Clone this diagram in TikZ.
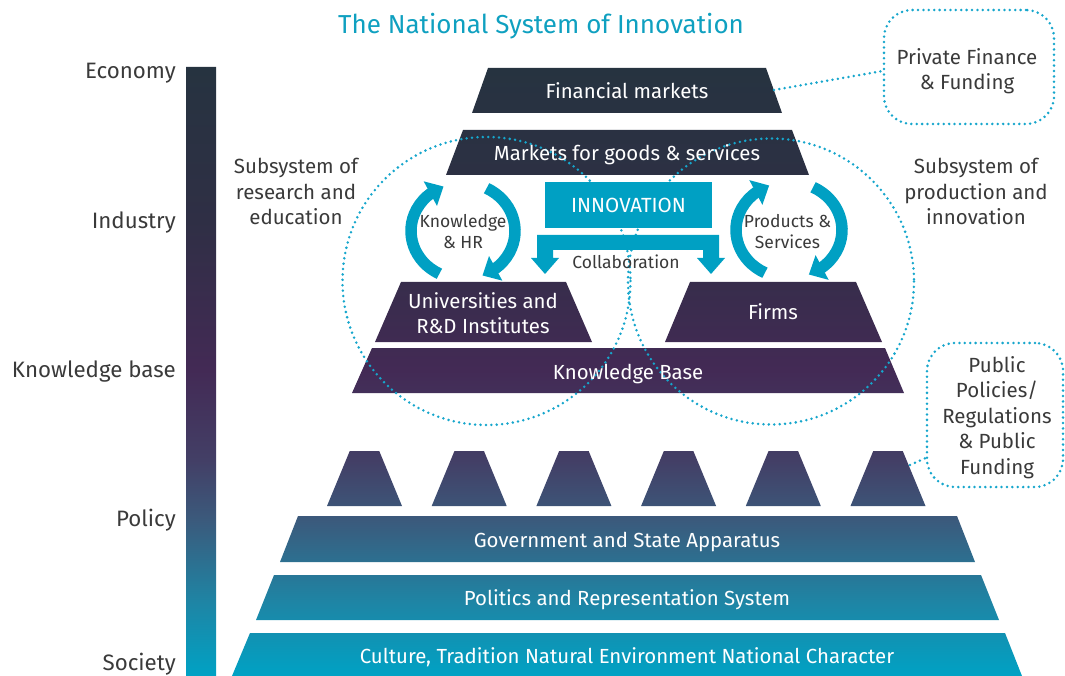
\documentclass[tikz,border=0pt]{standalone}
\usepackage{fontspec}
\setmainfont{Fira Sans}
\usetikzlibrary{arrows.meta,bending}
\definecolor{ecteal}{HTML}{00A0C3}
\definecolor{dotteal}{HTML}{16A6CC}
\definecolor{titleteal}{HTML}{0FA0C0}
\definecolor{txtgray}{HTML}{3A3A3A}
\definecolor{sc0}{HTML}{00A2C4}
\definecolor{sc1}{HTML}{1F84A4}
\definecolor{sc2}{HTML}{3B5A7C}
\definecolor{sc3}{HTML}{433F66}
\definecolor{sc4}{HTML}{432A55}
\definecolor{sc5}{HTML}{2F2F45}
\definecolor{sc6}{HTML}{263340}
\pgfdeclareverticalshading{nsishade}{100bp}{color(0bp)=(sc0); color(25bp)=(sc0); color(31.24bp)=(sc1); color(37.81bp)=(sc2); color(42.73bp)=(sc3); color(50.12bp)=(sc4); color(62.36bp)=(sc5); color(75bp)=(sc6); color(100bp)=(sc6)}
\begin{document}
\begin{tikzpicture}[x=1pt,y=-1pt,
  wlbl/.style={text=white,font=\fontsize{20.4}{25}\selectfont,anchor=base,inner sep=0pt,align=center},
  glbl/.style={text=txtgray,font=\fontsize{20.5}{25.5}\selectfont,anchor=base,inner sep=0pt,align=center},
  slbl/.style={text=txtgray,font=\fontsize{17.5}{21}\selectfont,anchor=base,inner sep=0pt,align=center},
  axlbl/.style={text=txtgray,font=\fontsize{22.3}{26}\selectfont,anchor=base east,inner sep=0pt},
  dotline/.style={draw=dotteal,line width=2.8pt,dash pattern=on 0pt off 5.4pt,line cap=round},
  callout/.style={dotline,rounded corners=28pt,inner sep=0pt},
  cyc/.style={draw=ecteal,line width=11.5pt,-{Triangle[width=27pt,length=15pt]}},
]
\useasboundingbox (0,0) rectangle (1065,676);

% gradient bar and pyramid layers
\shade[shading=nsishade]
  (186,67) rectangle (216,676)
  (488,68) -- (766,68) -- (782,113) -- (472,113) -- cycle
  (463,130) -- (792,130) -- (809,175) -- (446,175) -- cycle
  (401,282) -- (566,282) -- (592,342) -- (375,342) -- cycle
  (690,282) -- (856,282) -- (882,342) -- (665,342) -- cycle
  (372,348) -- (885,348) -- (904,393) -- (352,393) -- cycle
  (349.75,451) -- (379.25,451) -- (402,506) -- (327,506) -- cycle
  (454.45,451) -- (483.95,451) -- (506.7,506) -- (431.7,506) -- cycle
  (559.15,451) -- (588.65,451) -- (611.4,506) -- (536.4,506) -- cycle
  (663.85,451) -- (693.35,451) -- (716.1,506) -- (641.1,506) -- cycle
  (768.55,451) -- (798.05,451) -- (820.8,506) -- (745.8,506) -- cycle
  (873.25,451) -- (902.75,451) -- (925.5,506) -- (850.5,506) -- cycle
  (298,516) -- (957,516) -- (975,562) -- (280,562) -- cycle
  (274,575) -- (981,575) -- (999,620) -- (256,620) -- cycle
  (250,633) -- (1005,633) -- (1022,676) -- (232,676) -- cycle;

\coordinate (fmR) at (774,90);
\coordinate (p6R) at (910,465);

% subsystem circles
\draw[dotline] (486.5,281) circle[radius=144];
\draw[dotline] (771,281.5) circle[radius=143];

% innovation and collaboration
\node[fill=ecteal,minimum width=167pt,minimum height=46pt,inner sep=0pt,text=white,font=\fontsize{20.5}{24}\selectfont] (innov) at (628.5,205) {INNOVATION};
\fill[ecteal] (537,235) -- (719,235) -- (719,258) -- (725,258) -- (711,274) -- (697,258) -- (703,258) -- (703,250) -- (553,250) -- (553,258) -- (559,258) -- (545,274) -- (531,258) -- (537,258) -- cycle;

% cycle arrows
\draw[cyc,shift={(463,231)}] (117:52 and 48) arc[start angle=117,end angle=248,x radius=52,y radius=48];
\draw[cyc,shift={(463,231)}] (297:52 and 48) arc[start angle=297,end angle=428,x radius=52,y radius=48];
\draw[cyc,shift={(789,230)}] (117:53 and 48) arc[start angle=117,end angle=248,x radius=53,y radius=48];
\draw[cyc,shift={(789,230)}] (297:53 and 48) arc[start angle=297,end angle=428,x radius=53,y radius=48];

% title
\node[anchor=base,inner sep=0pt,text=titleteal,font=\fontsize{26}{30}\selectfont] (title) at (541,34) {The National System of Innovation};

% axis labels
\node[axlbl] (economy) at (176,79) {Economy};
\node[axlbl] (industry) at (176,229) {Industry};
\node[axlbl] (kbase) at (176,377) {Knowledge base};
\node[axlbl] (policy) at (176,526) {Policy};
\node[axlbl] (society) at (176,670) {Society};

% layer labels (multi-line nodes: base = last line)
\node[wlbl] (fin) at (627,99) {Financial markets};
\node[wlbl] (mkt) at (627,161) {Markets for goods \& services};
\node[wlbl] (uni) at (483,333) {Universities and\\R\&D Institutes};
\node[wlbl] (firms) at (773,319) {Firms};
\node[wlbl] (kb) at (628,379) {Knowledge Base};
\node[wlbl] (gov) at (627,547) {Government and State Apparatus};
\node[wlbl] (pol) at (627,605) {Politics and Representation System};
\node[wlbl] (cult) at (627,663) {Culture, Tradition Natural Environment National Character};

% grey labels
\node[glbl] (subres) at (296,225) {Subsystem of\\research and\\education};
\node[glbl] (subprod) at (976,225) {Subsystem of\\production and\\innovation};
\node[slbl] (khr) at (463,249) {Knowledge\\\& HR};
\node[slbl] (ps) at (787.5,249) {Products \&\\Services};
\node[slbl] (collab) at (626,269) {Collaboration};

% callouts
\node[callout,minimum width=170pt,minimum height=114pt] (pfbox) at (969,67) {};
\node[glbl] (pftext) at (967,90) {Private Finance\\\& Funding};
\draw[dotline] (fmR) -- ([yshift=-4pt]pfbox.west);
\node[callout,minimum width=136pt,minimum height=144pt] (ppbox) at (995,415) {};
\node[glbl] (pptext) at (997,474) {Public\\Policies/\\Regulations\\\& Public\\Funding};
\draw[dotline] (p6R) -- ([yshift=-43pt]ppbox.west);
\end{tikzpicture}
\end{document}
